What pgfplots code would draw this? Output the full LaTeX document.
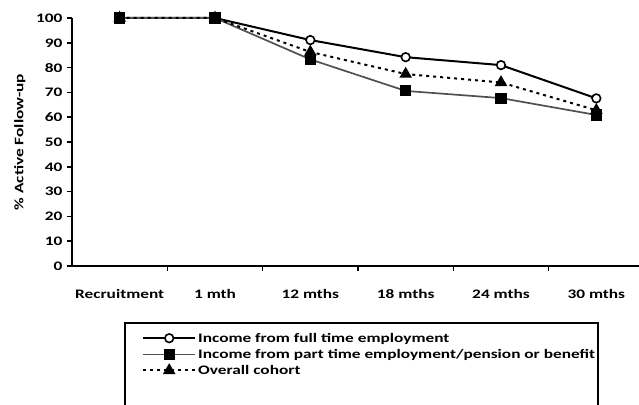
\documentclass[border=0pt]{standalone}
\usepackage{fontspec}
\setmainfont{Carlito}[FakeStretch=1.33]
\usepackage{pgfplots}
\pgfplotsset{compat=1.18}

\definecolor{partgray}{RGB}{80,80,80}
\newcommand{\chartfont}{\fontsize{13}{15}\selectfont\bfseries}

\begin{document}
\begin{tikzpicture}[x=1pt,y=1pt]
\begin{axis}[
    at={(72pt,138pt)}, anchor=south west,
    scale only axis,
    width=572pt, height=248pt,
    xmin=-0.5, xmax=5.5,
    ymin=0, ymax=100,
    axis lines=left,
    axis line style={-, line width=1.8pt},
    ytick={0,10,...,100},
    xtick={0,1,2,3,4,5},
    xticklabels={Recruitment,1 mth,12 mths,18 mths,24 mths,30 mths},
    major x tick style={draw=none},
    minor xtick={0.5,1.5,2.5,3.5,4.5,5.5},
    minor x tick style={line width=1.6pt, black},
    minor tick length=5pt,
    major y tick style={line width=1.6pt, black},
    major tick length=5pt,
    tick align=outside,
    tick label style={font=\chartfont},
    /pgf/number format/assume math mode=true,
    xticklabel style={yshift=-15pt},
    yticklabel style={xshift=-1pt},
    ylabel={\% Active Follow-up},
    ylabel style={font=\chartfont, yshift=4pt},
    clip=false,
    legend style={
        at={(0.1224,-0.2609)}, anchor=north west,
        draw=none, fill=none,
        font=\chartfont,
        inner sep=0pt,
        row sep=1.5pt,
        cells={anchor=west},
        /tikz/every even column/.append style={column sep=3pt},
    },
    legend image code/.code={
        \draw[mark repeat=2,mark phase=2,#1] plot coordinates {(0pt,0pt) (26pt,0pt) (52pt,0pt)};
    },
]
\addplot[black, line width=2pt, mark=*, mark size=4.3pt,
    mark options={fill=white, solid, line width=1.6pt}]
coordinates {(0,100) (1,100) (2,91.1) (3,84.2) (4,81.0) (5,67.6)};
\addlegendentry{Income from full time employment}

\addplot[partgray, line width=1.7pt, mark=square*, mark size=4.7pt,
    mark options={fill=black, draw=black, solid}]
coordinates {(0,100) (1,100) (2,83.3) (3,70.6) (4,67.7) (5,60.9)};
\addlegendentry{Income from part time employment/pension or benefit}

\addplot[black, line width=2pt, dash pattern=on 3pt off 4pt,
    mark=triangle*, mark size=5.3pt, mark options={fill=black, solid}]
coordinates {(0,100) (1,100) (2,86.3) (3,77.4) (4,74.0) (5,62.8)};
\addlegendentry{Overall cohort}

\addplot[forget plot, only marks, mark=square*, mark size=4.7pt,
    mark options={fill=black, draw=black}]
coordinates {(0,100) (1,100) (5,60.9)};
\end{axis}
\draw[line width=1.8pt] (125pt,-20pt) -- (125pt,81.3pt) -- (598pt,81.3pt) -- (598pt,-20pt);
\pgfresetboundingbox
\useasboundingbox (0,0) rectangle (639pt,404pt);
\end{tikzpicture}
\end{document}
